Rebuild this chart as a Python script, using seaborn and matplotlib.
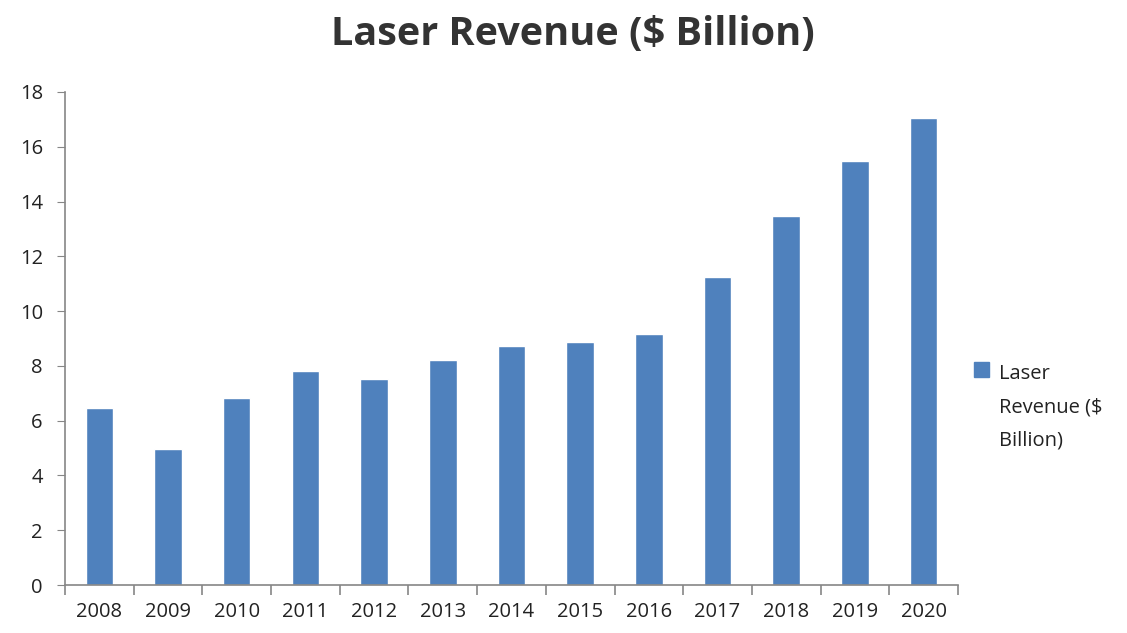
import numpy as np
import pandas as pd
import seaborn as sns
import matplotlib.pyplot as plt
from matplotlib.patches import Patch, Rectangle
from matplotlib.legend_handler import HandlerPatch

# Data
years = ['2008', '2009', '2010', '2011', '2012', '2013', '2014',
         '2015', '2016', '2017', '2018', '2019', '2020']
revenue = [6.47, 4.97, 6.83, 7.81, 7.52, 8.21, 8.73,
           8.87, 9.16, 11.24, 13.47, 15.48, 17.05]
y_ticks = [0, 2, 4, 6, 8, 10, 12, 14, 16, 18]

df = pd.DataFrame({'Year': years, 'Revenue': revenue})

sns.set_style('white')
plt.rcParams['font.family'] = ['Open Sans', 'DejaVu Sans']

fig = plt.figure(figsize=(11.27, 6.33), dpi=100)
ax = fig.add_axes([0.0577, 0.0758, 0.7923, 0.7789])

sns.barplot(data=df, x='Year', y='Revenue', color='#4F81BD', saturation=1,
            width=0.4, ax=ax)

ax.set_xlim(-0.5, len(years) - 0.5)
ax.set_ylim(0, 18)
ax.set_yticks(y_ticks)
ax.set_xlabel('')
ax.set_ylabel('')

# axis styling
for side in ['top', 'right']:
    ax.spines[side].set_visible(False)
for side in ['left', 'bottom']:
    ax.spines[side].set_color('#868686')
    ax.spines[side].set_linewidth(1.2)

ax.tick_params(axis='y', which='major', left=True, length=6, color='#868686',
               labelsize=14.5, labelcolor='#222222', pad=10)
ax.tick_params(axis='x', which='major', bottom=False, labelsize=14.5,
               labelcolor='#222222', pad=9)
ax.set_xticks(np.arange(-0.5, len(years), 1.0), minor=True)
ax.tick_params(axis='x', which='minor', bottom=True, length=7, color='#868686',
               width=1.2)

fig.text(0.508, 0.945, 'Laser Revenue ($ Billion)', ha='center', va='center',
         fontsize=28.5, fontweight='bold', color='#333333')

# legend: square sits next to the first line of a wrapped label
leg_fs = 14.5
leg_ls = 1.88


def top_square(legend, orig_handle, xdescent, ydescent, width, height, fontsize):
    shift = fontsize * 1.0 * leg_ls
    return Rectangle((-xdescent, -ydescent + shift), width, height)


handle = Patch(facecolor='#4F81BD', edgecolor='#4F81BD')
leg = ax.legend([handle], ['Laser\nRevenue ($\nBillion)'], loc='center left',
                bbox_to_anchor=(0.848, 0.357), bbox_transform=fig.transFigure,
                frameon=False, fontsize=leg_fs, handlelength=0.75,
                handleheight=0.75, handletextpad=0.5, labelcolor='#222222',
                handler_map={Patch: HandlerPatch(patch_func=top_square)})
for t in leg.get_texts():
    t.set_linespacing(leg_ls)

fig.savefig('out.png', dpi=100)
